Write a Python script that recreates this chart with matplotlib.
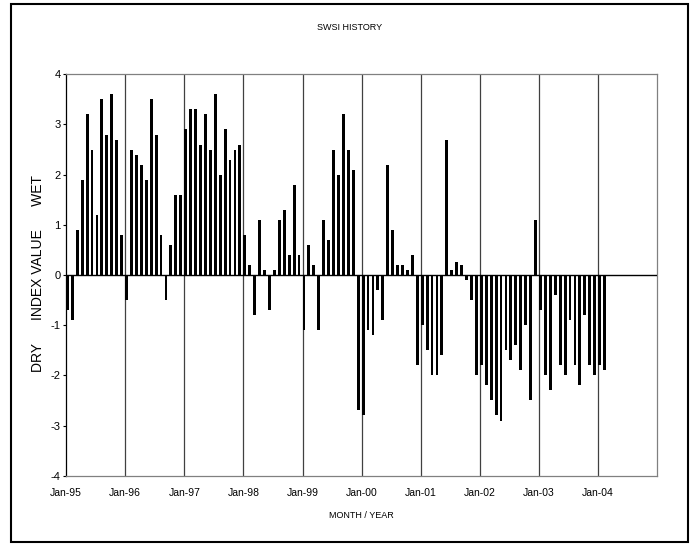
import matplotlib
matplotlib.use("Agg")
import matplotlib.pyplot as plt
import matplotlib.patches as mpatches
import numpy as np

plt.rcParams['font.family'] = ['Liberation Sans', 'DejaVu Sans']

# Monthly SWSI values, Jan-95 .. Feb-04
v1995 = [-0.7, -0.9, 0.9, 1.9, 3.2, 2.5, 1.2, 3.5, 2.8, 3.6, 2.7, 0.8]
v1996 = [-0.5, 2.5, 2.4, 2.2, 1.9, 3.5, 2.8, 0.8, -0.5, 0.6, 1.6, 1.6]
v1997 = [2.9, 3.3, 3.3, 2.6, 3.2, 2.5, 3.6, 2.0, 2.9, 2.3, 2.5, 2.6]
v1998 = [0.8, 0.2, -0.8, 1.1, 0.1, -0.7, 0.1, 1.1, 1.3, 0.4, 1.8, 0.4]
v1999 = [-1.1, 0.6, 0.2, -1.1, 1.1, 0.7, 2.5, 2.0, 3.2, 2.5, 2.1, -2.7]
v2000 = [-2.8, -1.1, -1.2, -0.3, -0.9, 2.2, 0.9, 0.2, 0.2, 0.1, 0.4, -1.8]
v2001 = [-1.0, -1.5, -2.0, -2.0, -1.6, 2.7, 0.1, 0.25, 0.2, -0.1, -0.5, -2.0]
v2002 = [-1.8, -2.2, -2.5, -2.8, -2.9, -1.5, -1.7, -1.4, -1.9, -1.0, -2.5, 1.1]
v2003 = [-0.7, -2.0, -2.3, -0.4, -1.8, -2.0, -0.9, -1.8, -2.2, -0.8, -1.8, -2.0]
v2004 = [-1.8, -1.9]

year_labels = ['Jan-95', 'Jan-96', 'Jan-97', 'Jan-98', 'Jan-99',
               'Jan-00', 'Jan-01', 'Jan-02', 'Jan-03', 'Jan-04']
y_ticks = [-4, -3, -2, -1, 0, 1, 2, 3, 4]

values = (v1995 + v1996 + v1997 + v1998 + v1999 + v2000 + v2001 +
          v2002 + v2003 + v2004)
months = np.arange(len(values))

W, H = 696, 544
fig = plt.figure(figsize=(W / 100, H / 100), dpi=100)
fig.patch.set_facecolor('white')

# outer border
fig.patches.append(mpatches.Rectangle((11 / W, 1 - 542 / H), (688 - 11) / W, (542 - 4) / H,
                                      transform=fig.transFigure, fill=False,
                                      edgecolor='black', linewidth=1.5))

ax = fig.add_axes([66 / W, 1 - 475.7 / H, (657.3 - 66) / W, (475.7 - 74.3) / H])

# yearly gridlines
year_pos = np.arange(len(year_labels) + 1) * 12
for xp in year_pos[1:-1]:
    ax.axvline(xp, color='#404040', linewidth=0.9, zorder=1)

ax.bar(months, values, width=0.58, align='edge', color='black', zorder=2)
ax.axhline(0, color='black', linewidth=1.0, zorder=3)

ax.set_xlim(0, 120)
ax.set_ylim(-4, 4)
ax.set_yticks(y_ticks)
ax.set_yticklabels([str(t) for t in y_ticks], fontsize=8)
ax.set_xticks(year_pos[:-1])
ax.set_xticklabels(year_labels, fontsize=7.5)
ax.tick_params(axis='x', length=0, pad=9)
ax.tick_params(axis='y', length=2.5, width=0.8, pad=1.5, direction='out')

for side in ['top', 'right', 'bottom']:
    ax.spines[side].set_color('#808080')
    ax.spines[side].set_linewidth(0.9)
ax.spines['left'].set_color('black')
ax.spines['left'].set_linewidth(0.9)

fig.text(350 / W, 1 - 28 / H, 'SWSI HISTORY', fontsize=6.5, ha='center', va='center')
fig.text(361 / W, 1 - 515 / H, 'MONTH / YEAR', fontsize=6.5, ha='center', va='center')
fig.text(38 / W, 1 - 274 / H, 'DRY      INDEX VALUE      WET', fontsize=10,
         rotation=90, ha='center', va='center')

fig.savefig('out.png', dpi=100)
